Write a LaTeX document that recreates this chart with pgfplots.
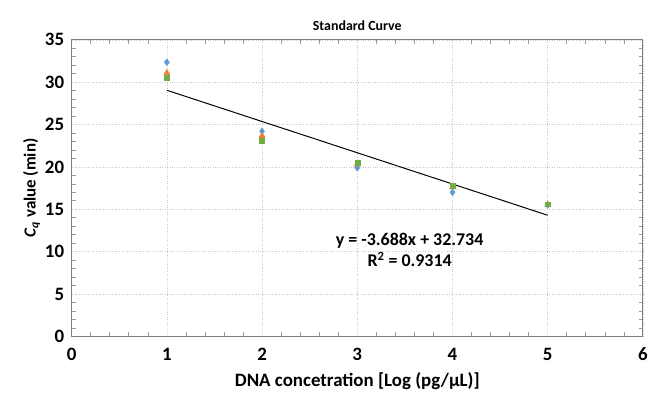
\documentclass[border=0pt]{standalone}
\usepackage{fontspec}
\setmainfont{Carlito}
\usepackage{pgfplots}
\pgfplotsset{compat=1.18}
\definecolor{xblue}{HTML}{5B9BD5}
\definecolor{xorange}{HTML}{ED7D31}
\definecolor{xgreen}{HTML}{70AD47}
\definecolor{xgrid}{HTML}{C8C8C8}
\definecolor{xaxis}{HTML}{808080}

\begin{document}
\begin{tikzpicture}[x=1pt,y=1pt]
\begin{axis}[
  width=574pt, height=298pt,
  scale only axis,
  xmin=0, xmax=6, ymin=0, ymax=35,
  xtick={0,1,2,3,4,5,6},
  ytick={0,5,10,15,20,25,30,35},
  minor x tick num=4, minor y tick num=4,
  tick align=inside,
  major tick length=0pt, minor tick length=4pt,
  minor tick style={xaxis!80, line width=0.6pt},
  axis line style={xaxis, line width=0.9pt},
  grid=major,
  major grid style={xgrid, dotted, line width=0.6pt},
  /pgf/number format/assume math mode=true,
  tick label style={font=\fontsize{19}{20}\selectfont\bfseries},
  xticklabel style={yshift=-8pt},
  yticklabel style={xshift=-4pt},
  xlabel={DNA concetration [Log (pg/μL)]},
  ylabel={\textit{C}\textsubscript{\textit{q}} value (min)},
  xlabel style={font=\fontsize{19}{20}\selectfont\bfseries, yshift=-5pt},
  ylabel style={font=\fontsize{17}{18}\selectfont\bfseries, yshift=-2pt},
  title={Standard Curve},
  title style={font=\fontsize{14}{16}\selectfont\bfseries, yshift=0pt},
  clip=false]

% trendline from the fitted equation y = -3.688x + 32.734
\addplot[black, line width=1pt] coordinates {(1,29.046) (5,14.294)};

\addplot[only marks, mark=diamond*, mark size=3.4pt, color=xblue]
  coordinates {(1,32.35) (2,24.2) (3,19.9) (4,17.0) (5,15.5)};
\addplot[only marks, mark=triangle*, mark size=3.6pt, color=xorange]
  coordinates {(1,31.1) (2,23.65) (3,20.3) (4,17.6) (5,15.55)};
\addplot[only marks, mark=square*, mark size=2.5pt, color=xgreen]
  coordinates {(1,30.5) (2,23.05) (3,20.45) (4,17.8) (5,15.6)};

\node[font=\fontsize{18}{20}\selectfont\bfseries, align=center]
  at (axis cs:3.55,10.2) {y = -3.688x + 32.734\\[1pt]R\textsuperscript{2} = 0.9314};
\end{axis}
\path[use as bounding box] ([shift={(-72pt,-68pt)}]current axis.south west)
  rectangle ([shift={(5pt,40pt)}]current axis.north east);
\end{tikzpicture}
\end{document}
